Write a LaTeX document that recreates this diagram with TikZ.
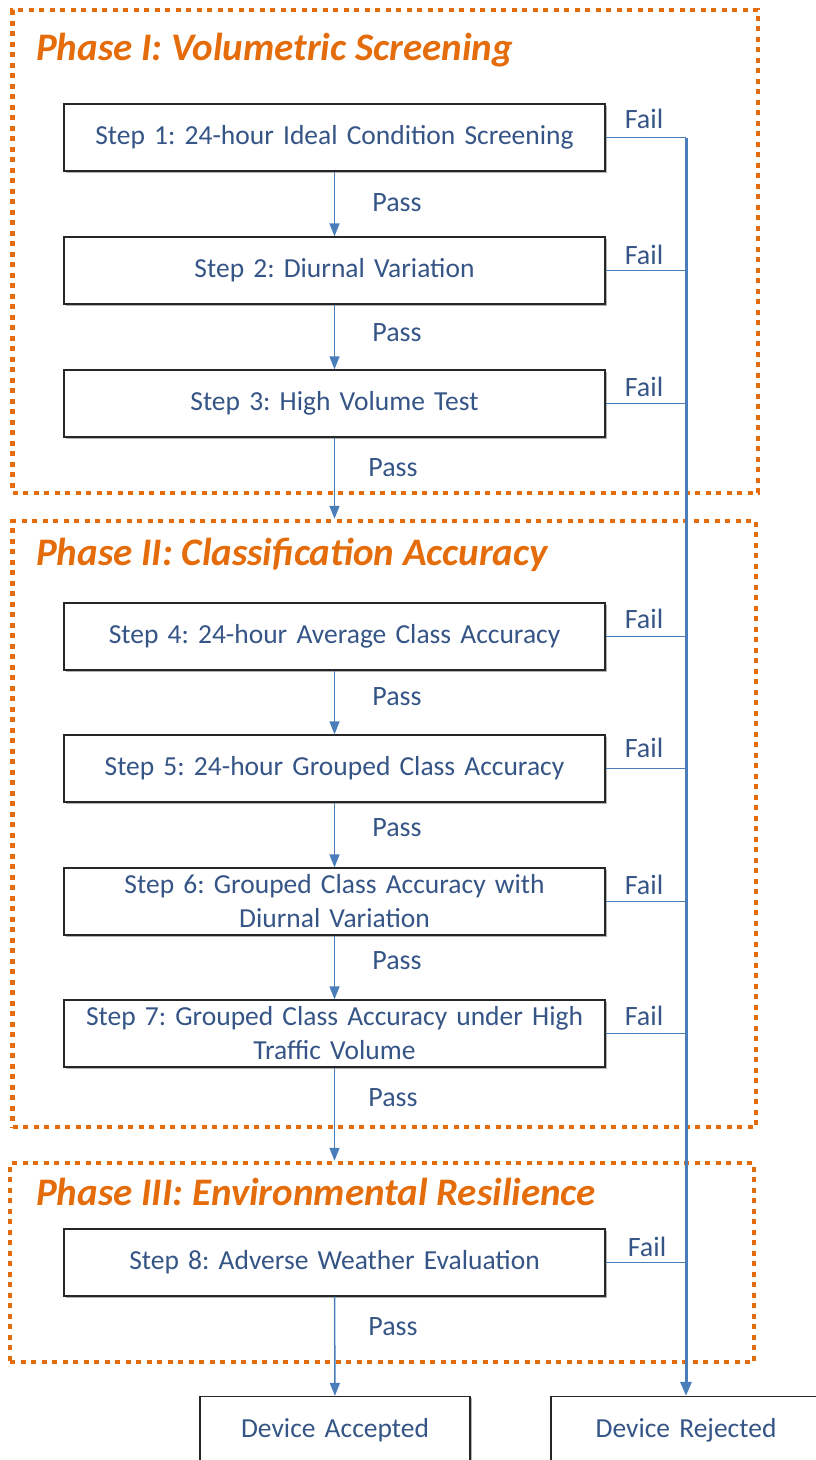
\documentclass[tikz,border=0pt]{standalone}
\usepackage{fontspec}
\setmainfont{Carlito}
\usetikzlibrary{arrows.meta,shadows}
\definecolor{lnblue}{HTML}{4A7EBB}
\definecolor{txtblue}{HTML}{365587}
\definecolor{phorange}{HTML}{E46C0A}
\frenchspacing
\begin{document}
\begin{tikzpicture}[x=1pt,y=-1pt,
  stepbox/.style={draw=black!85, line width=1.3pt, fill=white, minimum width=541pt, minimum height=67pt,
    text width=530pt, align=center, inner sep=0pt, text=txtblue,
    font=\fontsize{27.5}{34}\selectfont,
    drop shadow={shadow xshift=1.5pt, shadow yshift=-1.5pt, opacity=0.3, fill=black}},
  endbox/.style={stepbox, minimum width=270pt, text width=260pt},
  phaseframe/.style={draw=phorange, line width=4.5pt, dash pattern=on 5pt off 5.5pt, inner sep=0pt},
  phasetitle/.style={text=phorange, anchor=west, inner sep=0pt, font=\fontsize{39}{41}\selectfont\bfseries\itshape},
  lbl/.style={text=txtblue, inner sep=0pt, font=\fontsize{28}{30}\selectfont},
  passarrow/.style={draw=lnblue, line width=1.5pt, -{Triangle[length=13pt,width=10pt]}},
  failline/.style={draw=lnblue, line width=1.5pt},
  rejline/.style={draw=lnblue, line width=3pt, -{Triangle[length=14pt,width=11pt]}}
]
\useasboundingbox (0,0) rectangle (816,1460);
\clip (0,0) rectangle (816,1460);

% phase frames
\node[phaseframe, minimum width=745.5pt, minimum height=483pt] (f1) at (385.25,251.5) {};
\node[phaseframe, minimum width=743.5pt, minimum height=606pt] (f2) at (384.25,824) {};
\node[phaseframe, minimum width=744pt, minimum height=199pt] (f3) at (382,1262.5) {};

\node[phasetitle] (t1) at (36,50) {Phase I: Volumetric Screening};
\node[phasetitle] (t2) at (36,555) {Phase II: Classification Accuracy};
\node[phasetitle] (t3) at (36,1192) {Phase III: Environmental Resilience};

% steps
\node[stepbox] (s1) at (334.5,137.5) {Step 1: 24-hour Ideal Condition Screening};
\node[stepbox] (s2) at (334.5,270.5) {Step 2: Diurnal Variation};
\node[stepbox] (s3) at (334.5,403.5) {Step 3: High Volume Test};
\node[stepbox] (s4) at (334.5,636.5) {Step 4: 24-hour Average Class Accuracy};
\node[stepbox] (s5) at (334.5,768.5) {Step 5: 24-hour Grouped Class Accuracy};
\node[stepbox] (s6) at (334.5,901.5) {Step 6: Grouped Class Accuracy with\\Diurnal Variation};
\node[stepbox] (s7) at (334.5,1033.5) {Step 7: Grouped Class Accuracy under High\\Traffic Volume};
\node[stepbox] (s8) at (334.5,1262.5) {Step 8: Adverse Weather Evaluation};

\node[endbox] (acc) at (335,1430) {Device Accepted};
\node[endbox] (rej) at (686,1430) {Device Rejected};

% pass arrows
\coordinate (f2top) at (s3.south |- f2.north);
\coordinate (f3top) at (s7.south |- f3.north);
\draw[passarrow] (s1) -- (s2);
\draw[passarrow] (s2) -- (s3);
\draw[passarrow] (s3) -- (f2top);
\draw[passarrow] (s4) -- (s5);
\draw[passarrow] (s5) -- (s6);
\draw[passarrow] (s6) -- (s7);
\draw[passarrow] (s7) -- (f3top);
\draw[passarrow] (s8) -- (acc);

\node[lbl] (p1) at (397,203) {Pass};
\node[lbl] (p2) at (397,333) {Pass};
\node[lbl] (p3) at (393,468) {Pass};
\node[lbl] (p4) at (397,697) {Pass};
\node[lbl] (p5) at (397,828) {Pass};
\node[lbl] (p6) at (397,961) {Pass};
\node[lbl] (p7) at (393,1098) {Pass};
\node[lbl] (p8) at (393,1327) {Pass};

% fail lines
\coordinate (rtop) at (rej.north |- s1.east);
\foreach \s in {s1,s2,s3,s4,s5,s6,s7,s8}{
  \draw[failline] (\s.east) -- (rej.north |- \s.east);
}
\draw[rejline] (rtop) -- (rej.north);

\node[lbl] (fl1) at (644,119) {Fail};
\node[lbl] (fl2) at (644,255) {Fail};
\node[lbl] (fl3) at (644,387) {Fail};
\node[lbl] (fl4) at (644,619) {Fail};
\node[lbl] (fl5) at (644,748) {Fail};
\node[lbl] (fl6) at (644,885) {Fail};
\node[lbl] (fl7) at (644,1016) {Fail};
\node[lbl] (fl8) at (647,1247) {Fail};
\end{tikzpicture}
\end{document}
